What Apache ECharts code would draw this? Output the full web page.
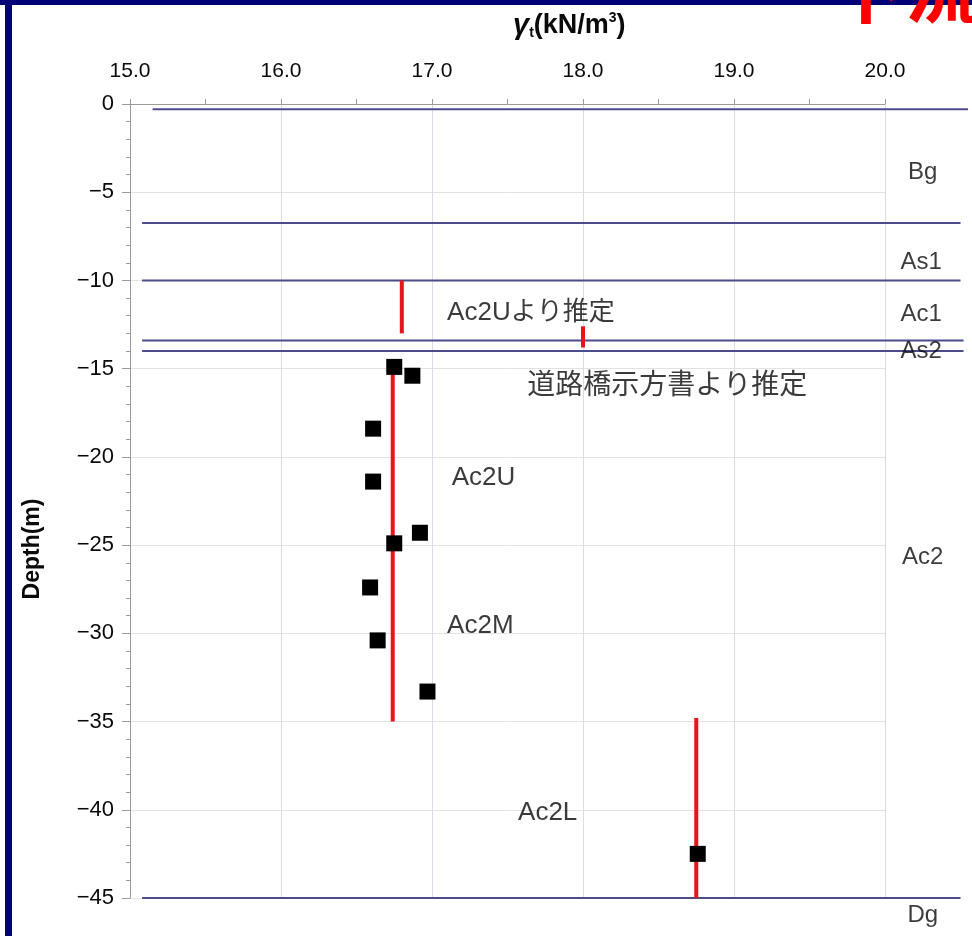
<!DOCTYPE html>
<html>
<head>
<meta charset="utf-8">
<script src="https://cdn.jsdelivr.net/npm/echarts@6/dist/echarts.min.js"></script>
<style>
  html, body { margin: 0; padding: 0; background: #ffffff; }
  #chart { width: 972px; height: 936px; }
</style>
</head>
<body>
<div id="chart"></div>
<script>
// ---- Data ----
// Measured unit weight points (kN/m3) and their depths (m)
const pointGamma = [16.75, 16.87, 16.61, 16.61, 16.92, 16.75, 16.59, 16.64, 16.97, 18.76];
const pointDepth = [-14.9, -15.4, -18.4, -21.4, -24.3, -24.9, -27.4, -30.4, -33.3, -42.5];

// Design (estimated) values: [gamma, top depth, bottom depth]
const designGamma  = [16.80, 18.00, 16.74, 18.75];
const designTop    = [-10.0, -12.6, -15.0, -34.8];
const designBottom = [-13.0, -13.8, -35.0, -45.0];

// Layer boundaries: depth, start gamma, end gamma
const boundaryDepth = [-0.3, -6.75, -10.0, -13.4, -14.0, -45.0];
const boundaryStart = [15.15, 15.08, 15.08, 15.08, 15.08, 15.08];
const boundaryEnd   = [20.55, 20.50, 20.50, 20.52, 20.52, 20.50];

// Layer names (right side) with position [gamma, depth]
const layerNames = ['Bg', 'As1', 'Ac1', 'As2', 'Ac2', 'Dg'];
const layerGamma = [20.25, 20.24, 20.24, 20.24, 20.25, 20.25];
const layerDepth = [-3.85, -9.0, -11.95, -14.0, -25.7, -46.0];

// In-plot annotations (left aligned) with position [gamma, depth]
const noteTexts = ['Ac2Uより推定', '道路橋示方書より推定', 'Ac2U', 'Ac2M', 'Ac2L'];
const noteGamma = [17.10, 17.63, 17.13, 17.10, 17.57];
const noteDepth = [-11.85, -16.0, -21.2, -29.55, -40.2];
const noteSize  = [26, 28, 26, 26, 26];

// Axis settings
const xMin = 15, xMax = 20, xStep = 1;
const yMin = -45, yMax = 0, yStep = 5;
// the layer boundaries run past the right end of the gamma axis
const xMaxWide = 20.55;

// ---- Chart ----
const chart = echarts.init(document.getElementById('chart'), null, { renderer: 'canvas' });
const latin = '"Liberation Sans", Arial, "Noto Sans CJK JP", sans-serif';
const cjk = '"Liberation Sans", "Noto Sans CJK JP", sans-serif';
const txt = '#0a0a0a';

const gridLeft = 130, gridTop = 104, gridBottom = 38;
const plotW = 755;                                   // width of the 15..20 range
const pxPerUnit = plotW / (xMax - xMin);
const wideRight = 972 - gridLeft - pxPerUnit * (xMaxWide - xMin);

const series = [];

boundaryDepth.forEach((d, i) => {
  series.push({
    type: 'line', silent: true, clip: false, symbol: 'none', z: 2,
    xAxisIndex: 1, yAxisIndex: 1,
    lineStyle: { color: '#4b4b8e', width: 2 },
    data: [[boundaryStart[i], d], [boundaryEnd[i], d]]
  });
});

designGamma.forEach((g, i) => {
  series.push({
    type: 'line', silent: true, clip: false, symbol: 'none', z: 3,
    lineStyle: { color: '#e8141c', width: 4 },
    data: [[g, designTop[i]], [g, designBottom[i]]]
  });
});

series.push({
  type: 'scatter', silent: true, clip: false, z: 5,
  symbol: 'rect', symbolSize: 16,
  itemStyle: { color: '#000000', opacity: 1 },
  data: pointGamma.map((g, i) => [g, pointDepth[i]])
});

series.push({
  type: 'scatter', silent: true, clip: false, z: 6,
  xAxisIndex: 1, yAxisIndex: 1,
  symbol: 'circle', symbolSize: 1,
  itemStyle: { color: 'rgba(0,0,0,0)' },
  label: {
    show: true, position: 'inside', align: 'center', verticalAlign: 'middle',
    color: txt, fontFamily: latin, fontSize: 24,
    formatter: p => p.name
  },
  data: layerNames.map((n, i) => ({ name: n, value: [layerGamma[i], layerDepth[i]] }))
});

series.push({
  type: 'scatter', silent: true, clip: false, z: 6,
  symbol: 'circle', symbolSize: 1,
  itemStyle: { color: 'rgba(0,0,0,0)' },
  data: noteTexts.map((n, i) => ({
    name: n, value: [noteGamma[i], noteDepth[i]],
    label: {
      show: true, position: 'inside', align: 'left', verticalAlign: 'middle',
      color: txt, fontFamily: cjk, fontSize: noteSize[i],
      formatter: p => p.name
    }
  }))
});

const option = {
  animation: false,
  backgroundColor: '#ffffff',
  title: {
    left: 508, top: 6,
    text: '{g|γ}{s|t}{n|(kN/m}{p|3}{n|)}',
    textStyle: {
      rich: {
        g: { fontFamily: latin, fontSize: 29, fontWeight: 'bold', fontStyle: 'italic', color: txt },
        s: { fontFamily: latin, fontSize: 14, fontWeight: 'bold', color: txt, padding: [15, 0, 0, 0] },
        n: { fontFamily: latin, fontSize: 27, fontWeight: 'bold', color: txt },
        p: { fontFamily: latin, fontSize: 14, fontWeight: 'bold', color: txt, padding: [0, 0, 15, 0] }
      }
    }
  },
  grid: [
    { left: gridLeft, width: plotW, top: gridTop, bottom: gridBottom, containLabel: false },
    { left: gridLeft, right: wideRight, top: gridTop, bottom: gridBottom, containLabel: false }
  ],
  xAxis: [{
    type: 'value', position: 'top', min: xMin, max: xMax, interval: xStep, gridIndex: 0,
    axisLine: { show: true, lineStyle: { color: '#9a9a9a', width: 1 } },
    axisTick: { show: true, length: 5, lineStyle: { color: '#9a9a9a' } },
    minorTick: { show: true, splitNumber: 2, length: 5, lineStyle: { color: '#9a9a9a' } },
    splitLine: { show: true, lineStyle: { color: '#dcdce6', width: 1 } },
    axisLabel: {
      margin: 22, color: txt, fontFamily: latin, fontSize: 21,
      formatter: v => v.toFixed(1)
    }
  }, {
    type: 'value', position: 'top', min: xMin, max: xMaxWide, gridIndex: 1, show: false,
    splitLine: { show: false }
  }],
  yAxis: [{
    type: 'value', min: yMin, max: yMax, interval: yStep, gridIndex: 0,
    axisLine: { show: true, lineStyle: { color: '#9a9a9a', width: 1 } },
    axisTick: { show: true, length: 8, lineStyle: { color: '#9a9a9a' } },
    minorTick: { show: true, splitNumber: 5, length: 4, lineStyle: { color: '#9a9a9a' } },
    splitLine: { show: true, lineStyle: { color: '#e2e2e2', width: 1 } },
    axisLabel: {
      margin: 16, color: txt, fontFamily: latin, fontSize: 22,
      formatter: v => String(v).replace('-', '\u2212')
    }
  }, {
    type: 'value', min: yMin, max: yMax, gridIndex: 1, show: false,
    splitLine: { show: false }
  }],
  graphic: [
    { type: 'rect', left: 0, top: 0, shape: { width: 972, height: 5 }, style: { fill: '#000077' }, silent: true },
    { type: 'rect', left: 5, top: 0, shape: { width: 7, height: 936 }, style: { fill: '#000077' }, silent: true },
    {
      type: 'text', x: 33, y: 549, rotation: Math.PI / 2, silent: true,
      style: {
        text: 'Depth(m)', fill: txt, font: 'bold 23px "Liberation Sans", Arial, sans-serif',
        textAlign: 'center', textVerticalAlign: 'middle'
      }
    },
    {
      type: 'text', x: 830, y: 26, silent: true,
      style: {
        text: '下流', fill: '#ff0000', font: 'bold 75px "Noto Sans CJK JP", sans-serif',
        textAlign: 'left', textVerticalAlign: 'bottom'
      }
    }
  ],
  series: series
};

chart.setOption(option);
</script>
</body>
</html>
